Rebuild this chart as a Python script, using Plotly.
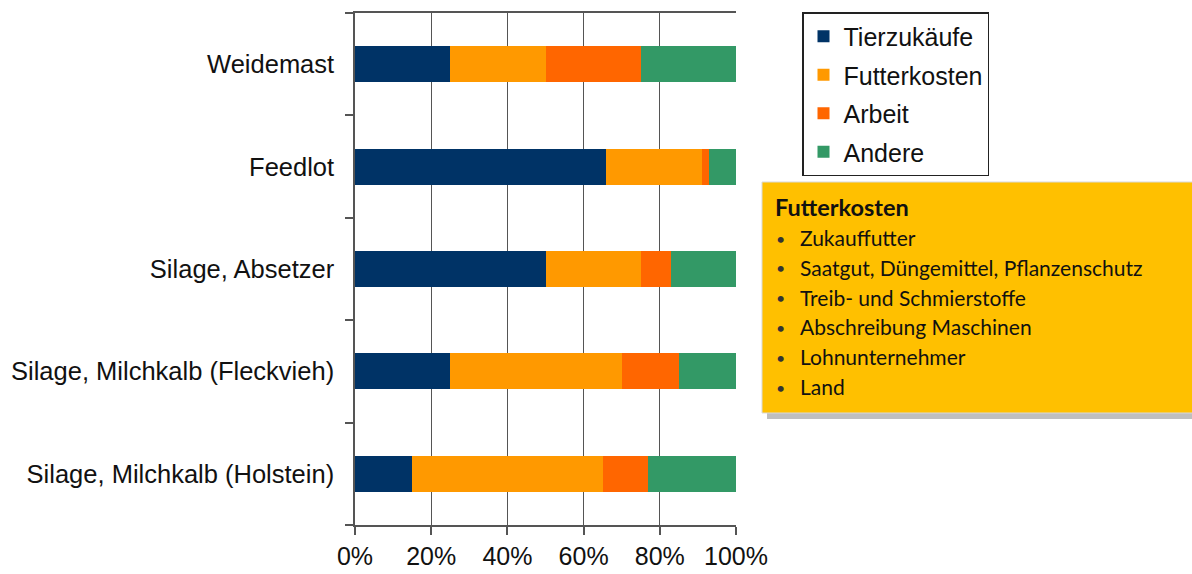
import plotly.graph_objects as go

categories = ["Weidemast", "Feedlot", "Silage, Absetzer",
              "Silage, Milchkalb (Fleckvieh)", "Silage, Milchkalb (Holstein)"]
tierzukaeufe = [25, 66, 50, 25, 15]
futterkosten = [25, 25, 25, 45, 50]
arbeit = [25, 2, 8, 15, 12]
andere = [25, 7, 17, 15, 23]

series_names = ["Tierzukäufe", "Futterkosten", "Arbeit", "Andere"]
series_values = [tierzukaeufe, futterkosten, arbeit, andere]
colors = ["#003366", "#FF9900", "#FF6600", "#339966"]

x_tickvals = [0, 20, 40, 60, 80, 100]
x_ticktext = ["0%", "20%", "40%", "60%", "80%", "100%"]

box_title = "Futterkosten"
box_items = ["Zukauffutter", "Saatgut, Düngemittel, Pflanzenschutz",
             "Treib- und Schmierstoffe", "Abschreibung Maschinen",
             "Lohnunternehmer", "Land"]

W, H = 1192, 574
L, R, T, B = 355, 736, 13, 525


def px(x):
    return (x - L) / (R - L)


def py(y):
    return (B - y) / (B - T)


fig = go.Figure()
for i, (name, vals, col) in enumerate(zip(series_names, series_values, colors)):
    fig.add_trace(go.Bar(
        y=categories, x=vals, name=name, orientation="h",
        marker=dict(color=col, line=dict(width=0)),
        legendgroup=name,
    ))

fig.update_layout(
    width=W, height=H,
    barmode="stack", bargap=0.65,
    plot_bgcolor="white", paper_bgcolor="white",
    margin=dict(l=L, r=W - R, t=T, b=H - B, pad=0, autoexpand=False),
    font=dict(family="Liberation Sans, Arial, sans-serif", size=25, color="#111111"),
    legend=dict(
        x=px(802), y=py(12), xanchor="left", yanchor="top",
        bordercolor="#222222", borderwidth=1.5, bgcolor="white",
        font=dict(size=25, color="#111111"),
        traceorder="grouped", tracegroupgap=3,
        itemwidth=30,
    ),
    xaxis=dict(
        range=[0, 100], tickmode="array", tickvals=x_tickvals, ticktext=x_ticktext,
        showgrid=True, gridcolor="#555555", gridwidth=1.2,
        showline=True, linecolor="#555555", linewidth=1.5, mirror=True,
        ticks="outside", ticklen=8, tickcolor="#555555", tickwidth=1.5,
        zeroline=False, tickfont=dict(size=25),
    ),
    yaxis=dict(
        categoryorder="array", categoryarray=categories[::-1],
        showline=True, linecolor="#555555", linewidth=1.5,
        ticks="outside", ticklen=8, tickcolor="#555555", tickwidth=1.5,
        tickson="boundaries", showgrid=False, ticklabelstandoff=14,
        tickfont=dict(size=25.5),
    ),
)

# shadow and yellow box
fig.add_shape(type="rect", xref="paper", yref="paper",
              x0=px(767), x1=px(1200), y0=py(419), y1=py(190),
              fillcolor="#BFBFBF", line=dict(width=0), layer="above")
fig.add_shape(type="rect", xref="paper", yref="paper",
              x0=px(762), x1=px(1200), y0=py(413), y1=py(182),
              fillcolor="#FFC000", line=dict(color="#D9D9D9", width=1), layer="above")

fig.add_annotation(x=px(773), y=py(207), xref="paper", yref="paper",
                   text="<b>" + box_title + "</b>", showarrow=False,
                   xanchor="left", yanchor="middle",
                   font=dict(family="Lato, sans-serif", size=23.5, color="#111111"))
for i, item in enumerate(box_items):
    yy = 238 + i * 29.8
    fig.add_annotation(x=px(780), y=py(yy), xref="paper", yref="paper",
                       text="•", showarrow=False, xanchor="center", yanchor="middle",
                       font=dict(family="Lato, sans-serif", size=16, color="#333333"))
    fig.add_annotation(x=px(798), y=py(yy - 0.5), xref="paper", yref="paper",
                       text=item, showarrow=False, xanchor="left", yanchor="middle",
                       font=dict(family="Lato, sans-serif", size=21, color="#111111"))

fig.write_html("out.html", config={"displayModeBar": False},
               post_script="document.body.style.margin='0px';")
